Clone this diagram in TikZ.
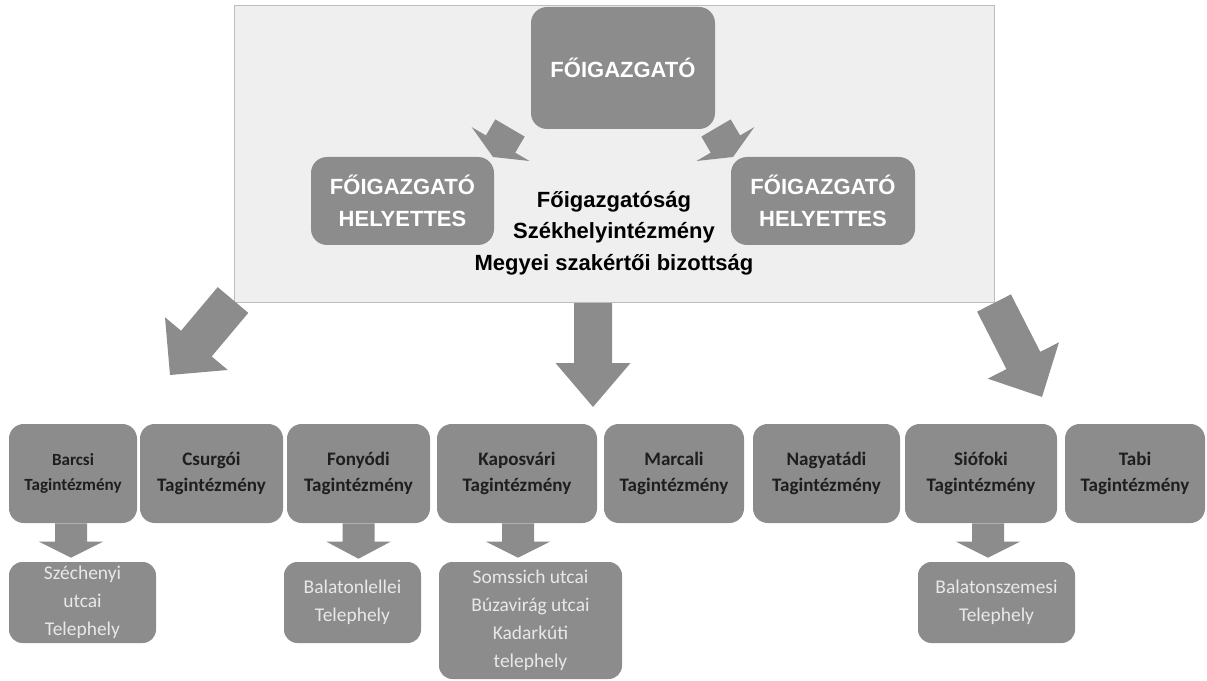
\documentclass[tikz,border=0pt]{standalone}
\usepackage{fontspec}
\newfontfamily\headfont{Liberation Sans}
\newfontfamily\unitfont{Carlito}
\usetikzlibrary{calc}
\definecolor{boxgray}{HTML}{8C8C8C}
\definecolor{hqfill}{HTML}{EFEFEF}
\definecolor{hqline}{HTML}{BDBDBD}
\definecolor{sitetext}{HTML}{E8E8E8}
\definecolor{unittext}{HTML}{1E1E1E}
% block arrow: tail, tip, half shaft, half head, head length
\newcommand{\blockarrow}[5]{%
	\coordinate (ba) at ($(#2)!#5!(#1)$);
	\fill[boxgray] ($(#1)!#3!90:(#2)$) -- ($(ba)!#3!90:(#2)$) -- ($(ba)!#4!90:(#2)$) -- (#2)
		-- ($(ba)!#4!-90:(#2)$) -- ($(ba)!#3!-90:(#2)$) -- ($(#1)!#3!-90:(#2)$) -- cycle;}
\begin{document}
\begin{tikzpicture}[x=0.75pt,y=-0.75pt]
	% one pixel of the sheet
	\def\pu{0.75pt}
	\def\unith{99}
	% node style definition
	\tikzstyle{hqbox} = [draw=hqline, line width=\pu, fill=hqfill, rectangle, inner sep=0];
	\tikzstyle{lead} = [fill=boxgray, rectangle, rounded corners=12pt, inner sep=0, align=center,
		text=white, font=\headfont\bfseries\fontsize{16.5}{24}\selectfont];
	\tikzstyle{hqtext} = [align=center, text=black, font=\headfont\bfseries\fontsize{16.5}{23.5}\selectfont];
	\tikzstyle{unit} = [fill=boxgray, rectangle, rounded corners=11pt, inner sep=0, align=center,
		minimum height=\unith*\pu, text=unittext, font=\unitfont\bfseries\fontsize{14.3}{20}\selectfont];
	\tikzstyle{site} = [fill=boxgray, rectangle, rounded corners=10pt, inner sep=0, align=center,
		text=sitetext, font=\unitfont\fontsize{14.6}{21}\selectfont];
	\useasboundingbox (0,0) rectangle (1207,681);

	% head office
	\node[hqbox, minimum width=760*\pu, minimum height=296*\pu] (hq) at (614,154) {};

	% arrows out of the head office
	\coordinate (leftTail) at (233,300);
	\coordinate (leftTip) at (170,375);
	\coordinate (midTail) at (593,303);
	\coordinate (midTip) at (593,407);
	\coordinate (rightTail) at (994,303);
	\coordinate (rightTip) at (1042,397);
	\blockarrow{leftTail}{leftTip}{20*\pu}{41*\pu}{41*\pu}
	\blockarrow{midTail}{midTip}{19*\pu}{37.5*\pu}{44*\pu}
	\blockarrow{rightTail}{rightTip}{19*\pu}{40*\pu}{41*\pu}

	\node[lead, minimum width=184*\pu, minimum height=122*\pu] (chief) at (623,68) {FŐIGAZGATÓ};
	\node[lead, minimum width=183*\pu, minimum height=88*\pu] (deputyL) at (402.5,201) {FŐIGAZGATÓ\\HELYETTES};
	\node[lead, minimum width=184*\pu, minimum height=88*\pu] (deputyR) at (823,201) {FŐIGAZGATÓ\\HELYETTES};
	\node[hqtext] (hqlabel) at (614,233) {Főigazgatóság\\Székhelyintézmény\\Megyei szakértői bizottság};

	\coordinate (chiefTailL) at (510,128);
	\coordinate (chiefTipL) at (493,157);
	\coordinate (chiefTailR) at (716,128);
	\coordinate (chiefTipR) at (733,157);
	\blockarrow{chiefTailL}{chiefTipL}{17*\pu}{33.5*\pu}{15*\pu}
	\blockarrow{chiefTailR}{chiefTipR}{17*\pu}{33.5*\pu}{15*\pu}

	% member institutions
	\node[unit, minimum width=128*\pu, font=\unitfont\bfseries\fontsize{12.8}{19}\selectfont] (barcsi) at (73,473.5) {Barcsi\\Tagintézmény};
	\node[unit, minimum width=143*\pu] (csurgoi) at (211.5,473.5) {Csurgói\\Tagintézmény};
	\node[unit, minimum width=143*\pu] (fonyodi) at (358.5,473.5) {Fonyódi\\Tagintézmény};
	\node[unit, minimum width=160*\pu] (kaposvari) at (517,473.5) {Kaposvári\\Tagintézmény};
	\node[unit, minimum width=140*\pu] (marcali) at (674,473.5) {Marcali\\Tagintézmény};
	\node[unit, minimum width=147*\pu] (nagyatadi) at (826.5,473.5) {Nagyatádi\\Tagintézmény};
	\node[unit, minimum width=152*\pu] (siofoki) at (981,473.5) {Siófoki\\Tagintézmény};
	\node[unit, minimum width=140*\pu] (tabi) at (1135,473.5) {Tabi\\Tagintézmény};

	% sites
	\node[site, minimum width=147*\pu, minimum height=81*\pu] (szechenyi) at (82.5,602.5) {Széchenyi\\utcai\\Telephely};
	\node[site, minimum width=137*\pu, minimum height=81*\pu] (lellei) at (352.5,602.5) {Balatonlellei\\Telephely};
	\node[site, minimum width=183*\pu, minimum height=117*\pu] (somssich) at (530.5,620.5) {Somssich utcai\\Búzavirág utcai\\Kadarkúti\\telephely};
	\node[site, minimum width=157*\pu, minimum height=81*\pu] (szemesi) at (996.5,602.5) {Balatonszemesi\\Telephely};

	\coordinate (barcsiTip) at ($(barcsi.south |- szechenyi.north)+(-2,-4)$);
	\coordinate (fonyodiTip) at ($(fonyodi.south |- lellei.north)+(0,-3)$);
	\coordinate (kaposvariTip) at ($(kaposvari.south |- somssich.north)+(1,-4)$);
	\coordinate (siofokiTail) at ($(siofoki.south)+(7,0)$);
	\coordinate (siofokiTip) at ($(siofoki.south |- szemesi.north)+(7,-4)$);
	\blockarrow{$(barcsi.south)+(-2,0)$}{barcsiTip}{16*\pu}{32*\pu}{16*\pu}
	\blockarrow{fonyodi.south}{fonyodiTip}{16*\pu}{32*\pu}{17*\pu}
	\blockarrow{$(kaposvari.south)+(1,0)$}{kaposvariTip}{16*\pu}{32*\pu}{16*\pu}
	\blockarrow{siofokiTail}{siofokiTip}{16*\pu}{32*\pu}{16*\pu}
\end{tikzpicture}
\end{document}
